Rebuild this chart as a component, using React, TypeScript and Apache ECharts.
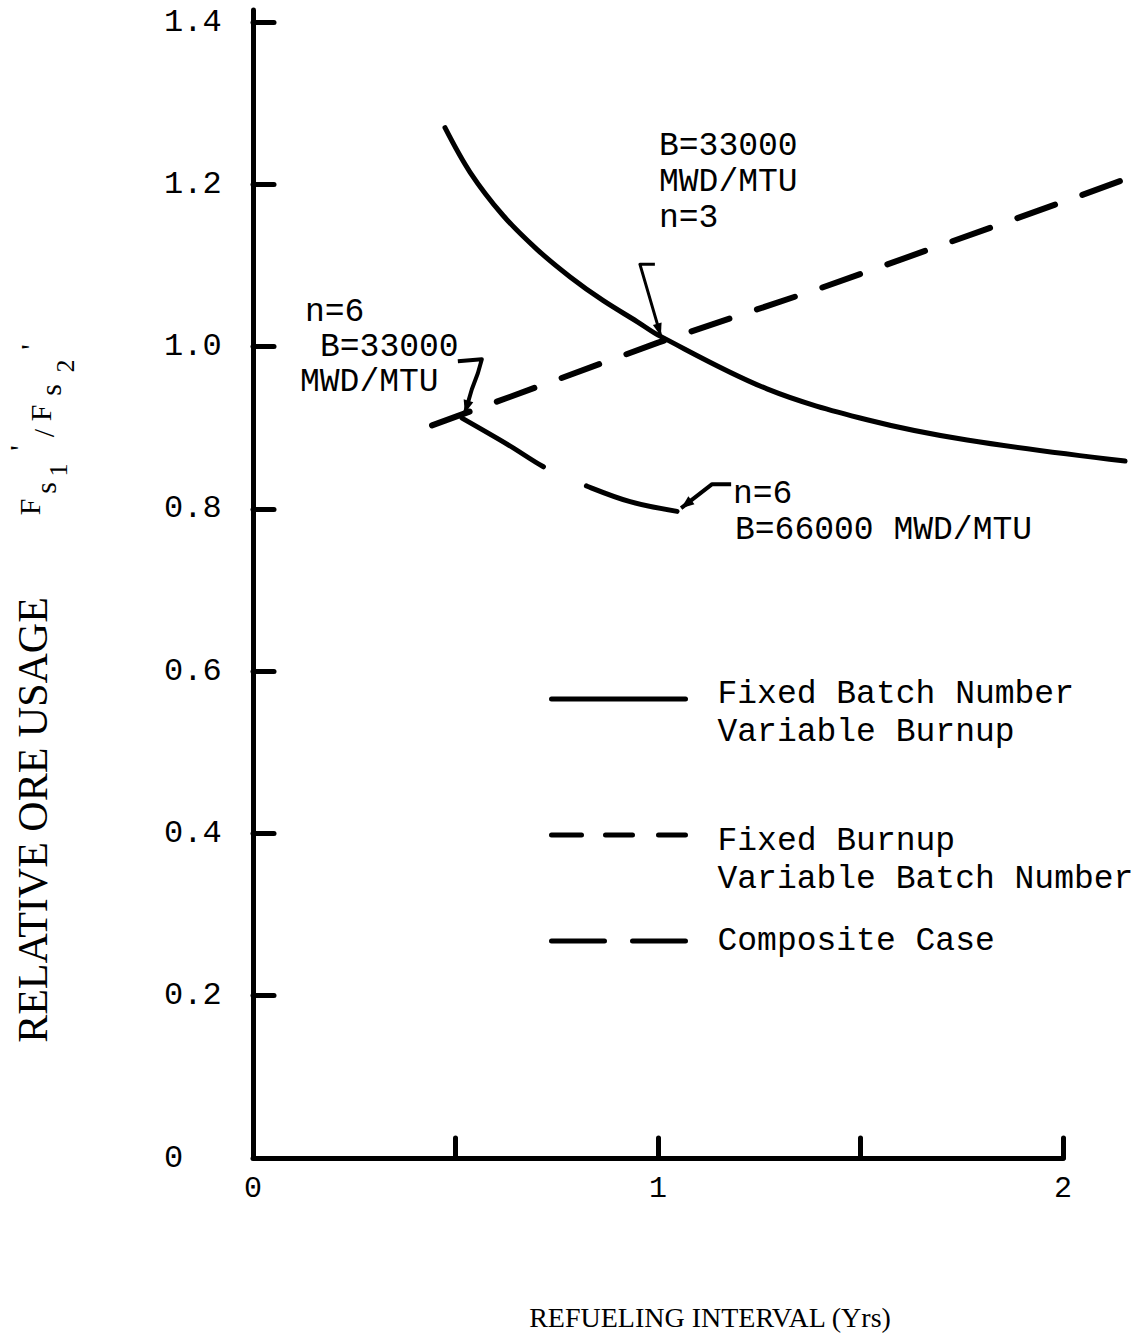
import React, { useEffect, useRef } from "react";
import * as echarts from "echarts";

// ---- data ----
const fixedBatchX = [0.474, 0.536, 0.617, 0.701, 0.783, 0.864, 0.948, 1.005, 1.269, 1.516, 1.763, 2.153];
const fixedBatchY = [1.270, 1.215, 1.162, 1.120, 1.086, 1.057, 1.031, 1.013, 0.948, 0.910, 0.885, 0.859];

const fixedBurnupX = [0.442, 1.0, 1.4, 2.025, 2.183];
const fixedBurnupY = [0.903, 1.005, 1.072, 1.183, 1.212];

const compositeX = [0.516, 0.627, 0.728, 0.825, 0.931, 1.047];
const compositeY = [0.912, 0.880, 0.849, 0.828, 0.809, 0.797];

const xTickValues = [0.5, 1, 1.5, 2];
const xLabelValues = [0, 1, 2];
const xAxisLineEnd = 2;
const yTickValues = [0.2, 0.4, 0.6, 0.8, 1.0, 1.2, 1.4];
const yLabelValues = [0, 0.2, 0.4, 0.6, 0.8, 1.0, 1.2, 1.4];

const seriesNames = [
  "Fixed Batch Number Variable Burnup",
  "Fixed Burnup Variable Batch Number",
  "Composite Case",
];
const legendLines = [
  ["Fixed Batch Number", "Variable Burnup"],
  ["Fixed Burnup", "Variable Batch Number"],
  ["Composite Case"],
];

const xTitle = "REFUELING INTERVAL (Yrs)";
const yTitle = "RELATIVE ORE USAGE";

// annotation anchor points (data coordinates of arrow tips)
const annoTipA = [1.007, 1.013];
const annoTipB = [0.523, 0.918];
const annoTipC = [1.057, 0.801];

const zip = (xs: number[], ys: number[]) => xs.map((x, i) => [x, ys[i]]);

const MONO = "'Liberation Mono', 'DejaVu Sans Mono', monospace";
const SERIF = "'Liberation Serif', 'DejaVu Serif', serif";

function arrowHead(tip: number[], prev: number[], len = 13, half = 5) {
  const dx = tip[0] - prev[0];
  const dy = tip[1] - prev[1];
  const d = Math.sqrt(dx * dx + dy * dy) || 1;
  const ux = dx / d, uy = dy / d;
  const nx = -uy, ny = ux;
  return {
    type: "polygon",
    silent: true,
    shape: {
      points: [
        [tip[0], tip[1]],
        [tip[0] - ux * len + nx * half, tip[1] - uy * len + ny * half],
        [tip[0] - ux * len - nx * half, tip[1] - uy * len - ny * half],
      ],
    },
    style: { fill: "#000" },
  };
}

function txt(text: string, x: number, y: number, font: string, align = "left") {
  return {
    type: "text",
    silent: true,
    x,
    y,
    style: {
      text,
      font,
      fill: "#000",
      align,
      verticalAlign: "middle",
      textAlign: align,
      textVerticalAlign: "middle",
    },
  };
}

export default function App() {
  const ref = useRef<HTMLDivElement>(null);

  useEffect(() => {
    if (!ref.current) return;
    const chart = echarts.init(ref.current, null, { renderer: "svg" });

    const lineCommon = {
      type: "line",
      symbol: "none",
      showSymbol: false,
      clip: false,
      silent: true,
      color: "#000",
      emphasis: { disabled: true },
    };

    const legendDash: any[] = ["solid", [30, 24, 27, 26], [53, 28]];
    const legendTops = [647, 772, 922];
    const legendGap = [28, 50, 0];

    const option: any = {
      animation: false,
      backgroundColor: "#ffffff",
      color: ["#000", "#000", "#000"],
      grid: {
        left: 253,
        right: 1,
        top: 10,
        bottom: 182,
        containLabel: false,
        outerBoundsMode: "none",
      },
      xAxis: {
        type: "value",
        min: 0,
        max: 2.18,
        axisLine: { show: false },
        axisTick: {
          show: true,
          inside: true,
          length: 20,
          customValues: xTickValues,
          lineStyle: { color: "#000", width: 5, cap: "round" },
        },
        axisLabel: {
          customValues: xLabelValues,
          margin: 16,
          fontFamily: MONO,
          fontSize: 30,
          color: "#000",
          formatter: (v: number) => String(v),
        },
        splitLine: { show: false },
        name: xTitle,
        nameLocation: "middle",
        nameGap: 145,
        nameTextStyle: {
          fontFamily: SERIF,
          fontSize: 28,
          color: "#000",
          padding: [0, 0, 0, 31],
        },
      },
      yAxis: {
        type: "value",
        min: 0,
        max: 1.415,
        axisLine: { show: true, onZero: false, lineStyle: { color: "#000", width: 5, cap: "round" } },
        axisTick: {
          show: true,
          inside: true,
          length: 21,
          customValues: yTickValues,
          lineStyle: { color: "#000", width: 5, cap: "round" },
        },
        axisLabel: {
          customValues: yLabelValues,
          align: "left",
          margin: 89,
          fontFamily: MONO,
          fontSize: 32,
          color: "#000",
          formatter: (v: number) => (v === 0 ? "0" : v.toFixed(1)),
        },
        splitLine: { show: false },
      },
      legend: legendLines.map((lines, i) => ({
        data: [seriesNames[i]],
        orient: "vertical",
        left: 549,
        top: legendTops[i],
        padding: 0,
        itemWidth: 134,
        itemHeight: 14,
        selectedMode: false,
        formatter: () =>
          (legendGap[i] > 0 ? "{g| }\n" : "") + lines.map((l) => `{t|${l}}`).join("\n"),
        textStyle: {
          fontFamily: MONO,
          fontSize: 33,
          lineHeight: 38,
          color: "#000",
          padding: [0, 0, 0, 27],
          rich: {
            t: { fontFamily: MONO, fontSize: 33, lineHeight: 38, color: "#000" },
            g: { fontSize: 8, lineHeight: legendGap[i] || 1, color: "#000" },
          },
        },
        itemStyle: {
          color: "rgba(0,0,0,0)",
          borderColor: "rgba(0,0,0,0)",
          borderWidth: 0,
          opacity: 0,
        },
        lineStyle: { color: "#000", width: 5, type: legendDash[i], cap: "round", opacity: 1 },
      })),
      series: [
        {
          ...lineCommon,
          name: seriesNames[0],
          data: zip(fixedBatchX, fixedBatchY),
          smooth: 0.35,
          lineStyle: { color: "#000", width: 5, type: "solid", cap: "round", join: "round" },
          markLine: {
            silent: true,
            symbol: ["none", "none"],
            label: { show: false },
            emphasis: { disabled: true },
            lineStyle: { color: "#000", width: 5, type: "solid", cap: "round" },
            data: [[{ coord: [0, 0] }, { coord: [xAxisLineEnd, 0] }]],
          },
        },
        {
          ...lineCommon,
          name: seriesNames[1],
          data: zip(fixedBurnupX, fixedBurnupY),
          smooth: false,
          lineStyle: { color: "#000", width: 6, type: [40, 29], cap: "round", join: "round" },
        },
        {
          ...lineCommon,
          name: seriesNames[2],
          data: zip(compositeX, compositeY),
          smooth: 0.35,
          lineStyle: { color: "#000", width: 5, type: [95, 47], cap: "round", join: "round" },
        },
      ],
    };

    chart.setOption(option);

    const P = (p: number[]) => chart.convertToPixel({ gridIndex: 0 }, p) as number[];
    const rel = (tip: number[], offs: number[][]) => offs.map((o) => [tip[0] + o[0], tip[1] + o[1]]);

    const tA = P(annoTipA);
    const tB = P(annoTipB);
    const tC = P(annoTipC);
    const ptsA = rel(tA, [[-6, -72], [-21, -72], [0, 0]]);
    const ptsB = rel(tB, [[-7, -52], [17, -54], [13, -40], [7, -24], [0, 0]]);
    const ptsC = rel(tC, [[50, -24], [31, -24], [0, 0]]);

    const f33 = `33px ${MONO}`;
    const fSub = `30px ${SERIF}`;

    const graphic: any[] = [
      // arrows
      { type: "polyline", silent: true, shape: { points: ptsA }, style: { stroke: "#000", lineWidth: 3, fill: null, lineJoin: "round" } },
      arrowHead(ptsA[2], ptsA[1], 13, 4.5),
      { type: "polyline", silent: true, shape: { points: ptsB }, style: { stroke: "#000", lineWidth: 4, fill: null, lineJoin: "round" } },
      arrowHead(ptsB[4], ptsB[3], 13, 5),
      { type: "polyline", silent: true, shape: { points: ptsC }, style: { stroke: "#000", lineWidth: 4, fill: null, lineJoin: "round" } },
      arrowHead(ptsC[2], ptsC[1], 13, 5),
      // annotation texts
      txt("B=33000", 659, 146, f33),
      txt("MWD/MTU", 659, 182, f33),
      txt("n=3", 659, 218, f33),
      txt("n=6", 305, 312, f33),
      txt("B=33000", 320, 347, f33),
      txt("MWD/MTU", 300, 382, f33),
      txt("n=6", 733, 494, f33),
      txt("B=66000 MWD/MTU", 735, 530, f33),
      // y-axis title
      {
        type: "group",
        x: 33,
        y: 820,
        rotation: Math.PI / 2,
        children: [txt(yTitle, 0, 0, `42px ${SERIF}`, "center")],
      },
      {
        type: "group",
        x: 40,
        y: 520,
        rotation: Math.PI / 2,
        children: [
          txt("F", 13, -11, fSub, "center"),
          txt("s", 32, 5, fSub, "center"),
          txt("1", 50, 18, `26px ${SERIF}`, "center"),
          txt("'", 72, -21, fSub, "center"),
          txt("/", 87, 3, fSub, "center"),
          txt("F", 107, 0, fSub, "center"),
          txt("s", 130, 10, fSub, "center"),
          txt("2", 154, 25, `26px ${SERIF}`, "center"),
          txt("'", 173, -10, fSub, "center"),
        ],
      },
    ];

    chart.setOption({ graphic });

    return () => {
      chart.dispose();
    };
  }, []);

  return (
    <div
      ref={ref}
      style={{ position: "absolute", left: 0, top: 0, width: 1137, height: 1340, background: "#fff" }}
    />
  );
}
